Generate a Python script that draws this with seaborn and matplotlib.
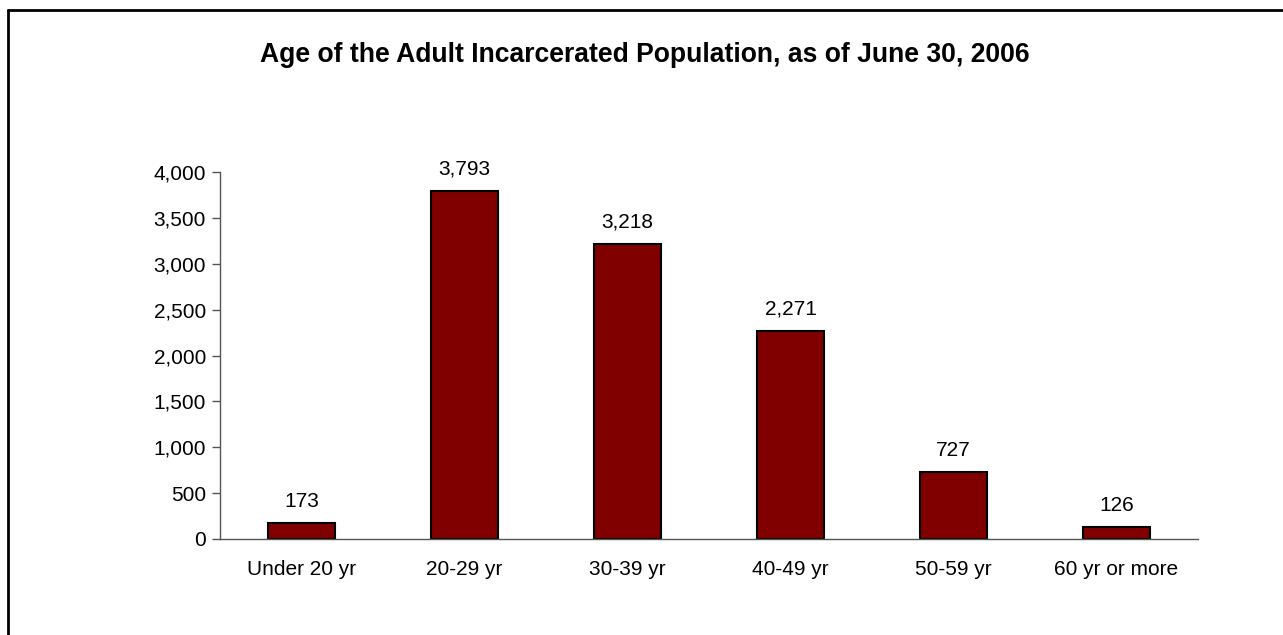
import seaborn as sns
import matplotlib.pyplot as plt
import pandas as pd
from matplotlib.lines import Line2D

categories = ["Under 20 yr", "20-29 yr", "30-39 yr", "40-49 yr", "50-59 yr", "60 yr or more"]
counts = [173, 3793, 3218, 2271, 727, 126]
y_ticks = [0, 500, 1000, 1500, 2000, 2500, 3000, 3500, 4000]

df = pd.DataFrame({"age": categories, "count": counts})

sns.set_style("white")
plt.rcParams["font.family"] = ["Liberation Sans", "DejaVu Sans"]
plt.rcParams["text.color"] = "black"
plt.rcParams["xtick.color"] = "black"
plt.rcParams["ytick.color"] = "black"

W, H = 1283, 635
fig = plt.figure(figsize=(W / 100, H / 100), dpi=100)
ax = fig.add_axes([220 / W, 96 / H, 978 / W, 367 / H])

sns.barplot(data=df, x="age", y="count", color="#800000", saturation=1,
            width=0.405, edgecolor="black", linewidth=1.5, ax=ax)

ax.set_xlim(-0.5, len(categories) - 0.5)
ax.set_ylim(0, 4000)
ax.set_yticks(y_ticks)
ax.set_yticklabels([f"{v:,}" for v in y_ticks])
ax.set_xlabel("")
ax.set_ylabel("")

# category boundaries as minor ticks, labels centred with no tick
ax.set_xticks([i - 0.5 for i in range(len(categories) + 1)], minor=True)
ax.tick_params(axis="x", which="major", length=0, pad=15, labelsize=15, labelcolor="black")
ax.tick_params(axis="x", which="minor", length=6, width=1, color="#555555", direction="out")
ax.tick_params(axis="y", length=6, width=1, color="#555555", direction="out", left=True,
               labelsize=15, pad=4, labelcolor="black")

for side in ["top", "right"]:
    ax.spines[side].set_visible(False)
for side in ["left", "bottom"]:
    ax.spines[side].set_color("#555555")
    ax.spines[side].set_linewidth(1)

for i, v in enumerate(counts):
    ax.annotate(f"{v:,}", (i, v), xytext=(0, 9), textcoords="offset points",
                ha="center", va="bottom", fontsize=15, color="black")

fig.text(645 / W, 1 - 55 / H, "Age of the Adult Incarcerated Population, as of June 30, 2006",
         ha="center", va="center", fontsize=19.1, fontweight="bold", color="black")

# outer frame: only top and left edges are visible in the source
fig.add_artist(Line2D([8 / W, 1], [1 - 10 / H, 1 - 10 / H], transform=fig.transFigure,
                      color="black", linewidth=2))
fig.add_artist(Line2D([8 / W, 8 / W], [0, 1 - 10 / H], transform=fig.transFigure,
                      color="black", linewidth=2))

fig.savefig("out.png", dpi=100)
plt.close()
